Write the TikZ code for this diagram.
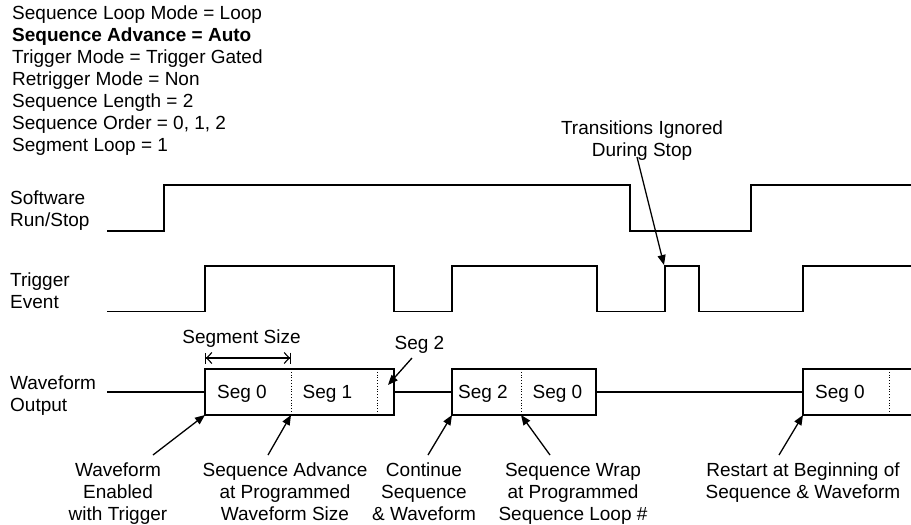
\documentclass[tikz,border=0pt]{standalone}
\usepackage{fontspec}
\setmainfont{Liberation Sans}
\usetikzlibrary{arrows.meta}
\begin{document}
\begin{tikzpicture}[x=1pt,y=-1pt,
  sig/.style={line width=1.1pt, line join=miter},
  lbl/.style={inner sep=0pt, font=\fontsize{19}{21.8}\selectfont},
  ptr/.style={line width=1.3pt, -{Triangle[length=10pt,width=8pt]}},
  dotsep/.style={line width=0.8pt, dotted},
  dimarrow/.style={line width=1.1pt,
    {Bar[width=11pt]Straight Barb[length=5pt,width=11pt]}-{Straight Barb[length=5pt,width=11pt]Bar[width=11pt]}}]
\useasboundingbox (0,0) rectangle (911,525);

% parameter list
\node[lbl, anchor=north west, align=left, font=\fontsize{19}{22}\selectfont] (params) at (12,6)
  {Sequence Loop Mode = Loop\\ \textbf{Sequence Advance = Auto}\\ Trigger Mode = Trigger Gated\\
   Retrigger Mode = Non\\ Sequence Length = 2\\ Sequence Order = 0, 1, 2\\ Segment Loop = 1};

% left labels
\node[lbl, anchor=north west, align=left] (swlbl) at (10,191) {Software\\Run/Stop};
\node[lbl, anchor=north west, align=left] (trlbl) at (10,273) {Trigger\\Event};
\node[lbl, anchor=north west, align=left] (wflbl) at (10,376) {Waveform\\Output};

% software run/stop
\draw[sig] (107,231) -- (164,231) -- (164,185) -- (630,185) -- (630,231) -- (751,231) -- (751,185) -- (911,185);
% trigger event
\draw[sig] (107,311.5) -- (205,311.5) -- (205,266) -- (394,266) -- (394,311.5) -- (452,311.5) -- (452,266)
  -- (597,266) -- (597,311.5) -- (665,311.5) -- (665,266) -- (699,266) -- (699,311.5) -- (803,311.5) -- (803,266) -- (911,266);

% waveform output
\draw[sig] (107,392) -- (205,392);
\draw[sig] (205,369) rectangle (394,415);
\draw[sig] (394,392) -- (452,392);
\draw[sig] (452,369) rectangle (596,415);
\draw[sig] (596,392) -- (803,392);
\draw[sig] (911,369) -- (803,369) -- (803,415) -- (911,415);
\draw[dotsep] (291,369) -- (291,415);
\draw[dotsep] (377,369) -- (377,415);
\draw[dotsep] (521,369) -- (521,415);
\draw[dotsep] (889,369) -- (889,415);

\node[lbl, anchor=base] (s0a) at (242,398.8) {Seg 0};
\node[lbl, anchor=base] (s1a) at (327.5,398.8) {Seg 1};
\node[lbl, anchor=base] (s2b) at (483,398.8) {Seg 2};
\node[lbl, anchor=base] (s0b) at (557.5,398.8) {Seg 0};
\node[lbl, anchor=base] (s0c) at (840,398.8) {Seg 0};

% segment size
\node[lbl, anchor=base] (segsize) at (241.5,343.8) {Segment Size};
\coordinate (ssl) at (205,358);
\coordinate (ssr) at (291,358);
\draw[dimarrow] (ssl) -- (ssr);

% seg 2 label
\node[lbl, anchor=base] (seg2lbl) at (419.5,349.8) {Seg 2};
\coordinate (seg2from) at (412,358);
\coordinate (seg2to) at (388,385);
\draw[ptr] (seg2from) -- (seg2to);

% transitions ignored
\node[lbl, anchor=north, align=center] (trans) at (642,121) {Transitions Ignored\\During Stop};
\coordinate (transfrom) at (637,157);
\coordinate (transto) at (664,265);
\draw[ptr] (transfrom) -- (transto);

% bottom labels
\node[lbl, anchor=north, align=center] (enab) at (118,463) {Waveform\\Enabled\\with Trigger};
\node[lbl, anchor=north, align=center] (adv) at (285,463) {Sequence Advance\\at Programmed\\Waveform Size};
\node[lbl, anchor=north, align=center] (cont) at (424,463) {Continue\\Sequence\\\& Waveform};
\node[lbl, anchor=north, align=center] (wrap) at (573,463) {Sequence Wrap\\at Programmed\\Sequence Loop \#};
\node[lbl, anchor=north, align=center] (rest) at (803,463) {Restart at Beginning of\\Sequence \& Waveform};

\coordinate (enabfrom) at (153,455);
\coordinate (enabto) at (205,415);
\coordinate (advfrom) at (268,455);
\coordinate (advto) at (291,415);
\coordinate (contfrom) at (428,455);
\coordinate (contto) at (452,415);
\coordinate (wrapfrom) at (550,455);
\coordinate (wrapto) at (521,415);
\coordinate (restfrom) at (779,455);
\coordinate (restto) at (803,415);
\draw[ptr] (enabfrom) -- (enabto);
\draw[ptr] (advfrom) -- (advto);
\draw[ptr] (contfrom) -- (contto);
\draw[ptr] (wrapfrom) -- (wrapto);
\draw[ptr] (restfrom) -- (restto);
\end{tikzpicture}
\end{document}
